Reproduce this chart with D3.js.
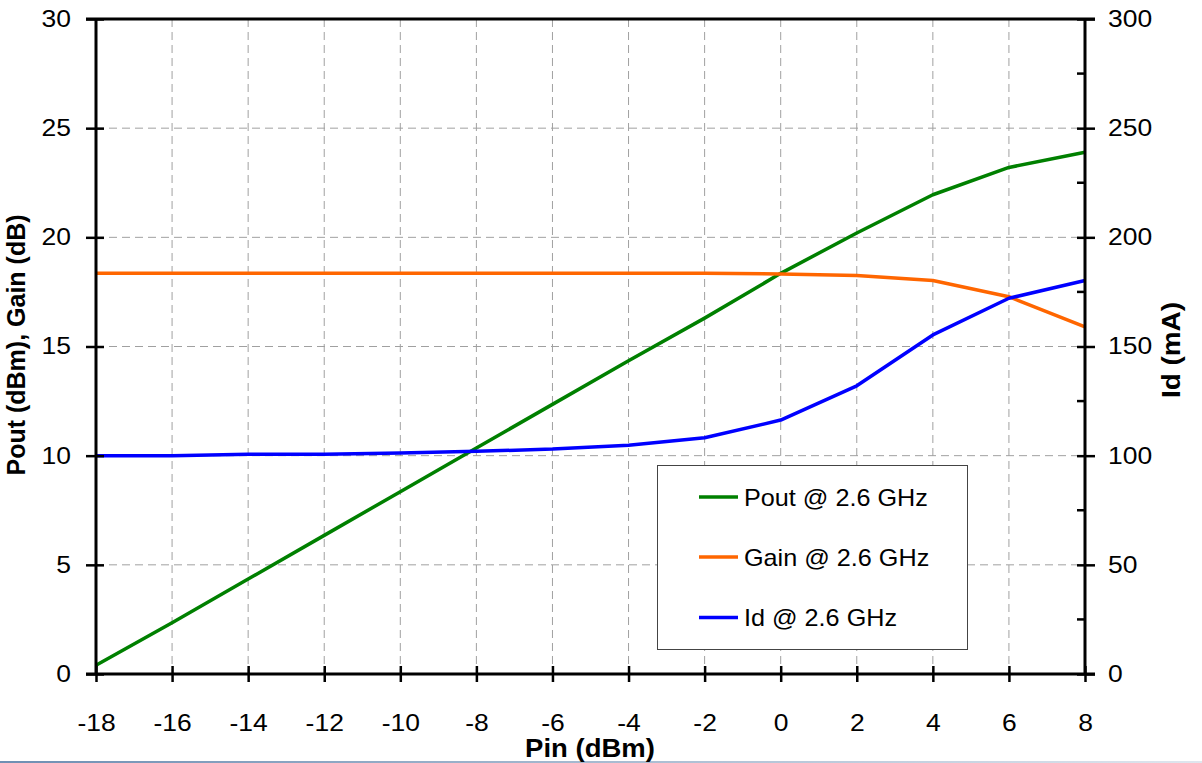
<!DOCTYPE html>
<html><head><meta charset="utf-8">
<script src="https://cdn.jsdelivr.net/npm/d3@7"></script>
<style>html,body{margin:0;padding:0;background:#fff;}svg{display:block;font-family:"Liberation Sans",Arial,sans-serif;}</style>
</head><body>
<svg id="c" width="1202" height="763"></svg>
<script>
const pin = [-18,-16,-14,-12,-10,-8,-6,-4,-2,0,2,4,6,8];
const pout = [0.4,2.35,4.35,6.35,8.35,10.35,12.35,14.35,16.3,18.35,20.2,21.95,23.2,23.9];
const gain = [18.36,18.36,18.36,18.36,18.36,18.36,18.36,18.36,18.36,18.32,18.25,18.02,17.28,15.9];
const idma = [100,100,100.6,100.7,101.2,102,103,104.8,108.2,116.3,132,155.3,172.1,180.2];
const xTicks = [-18,-16,-14,-12,-10,-8,-6,-4,-2,0,2,4,6,8];
const yLeftTicks = [0,5,10,15,20,25,30];
const yRightTicks = [0,50,100,150,200,250,300];
const yRightMinor = [25,75,125,175,225,275];
const seriesNames = ["Pout @ 2.6 GHz","Gain @ 2.6 GHz","Id @ 2.6 GHz"];
const seriesColors = ["#008000","#ff6600","#0000ff"];

const L=96,R=1085,T=19,B=674;
const svg=d3.select("#c");
const x=d3.scaleLinear().domain([-18,8]).range([L,R]);
const yl=d3.scaleLinear().domain([0,30]).range([B,T]);
const yr=d3.scaleLinear().domain([0,300]).range([B,T]);

// bottom artifact line
const defs=svg.append("defs");
const gr=defs.append("linearGradient").attr("id","bl");
gr.append("stop").attr("offset","0").attr("stop-color","#6f8fb3");
gr.append("stop").attr("offset","1").attr("stop-color","#dfe6ee");
svg.append("rect").attr("x",0).attr("y",761).attr("width",1202).attr("height",2).attr("fill","url(#bl)");

// grid
const grid=svg.append("g").attr("stroke","#a0a0a0").attr("stroke-width",1).attr("stroke-dasharray","8,5");
xTicks.filter(d=>d>-18&&d<8).forEach(d=>grid.append("line").attr("x1",x(d)).attr("x2",x(d)).attr("y1",T).attr("y2",B));
yLeftTicks.filter(d=>d>0&&d<30).forEach(d=>grid.append("line").attr("x1",L).attr("x2",R).attr("y1",yl(d)).attr("y2",yl(d)));

// series
const vals=[pout,gain,idma];
const scales=[yl,yl,yr];
vals.forEach((v,i)=>{
  const line=d3.line().x((d,j)=>x(pin[j])).y(d=>scales[i](d));
  svg.append("path").datum(v).attr("d",line).attr("fill","none").attr("stroke",seriesColors[i]).attr("stroke-width",3.5).attr("stroke-linejoin","round");
});

// axes
const fmt=d=>String(d);
const ax=svg.append("g");
function styleAxis(g){g.select(".domain").remove();g.selectAll(".tick line").attr("stroke","#000").attr("stroke-width",2.5);g.selectAll(".tick text").attr("fill","#000");}
const gx=ax.append("g").attr("transform",`translate(0,${B})`).call(d3.axisBottom(x).tickValues(xTicks).tickSize(8).tickFormat(fmt).tickPadding(33));
styleAxis(gx);
gx.selectAll(".tick line").attr("y1",-8).attr("y2",8);
gx.selectAll(".tick text").attr("font-size",23).attr("class","sx");
const gl=ax.append("g").attr("transform",`translate(${L},0)`).call(d3.axisLeft(yl).tickValues(yLeftTicks).tickSize(10).tickFormat(fmt).tickPadding(15));
styleAxis(gl);
gl.selectAll(".tick line").attr("x1",-10).attr("x2",8);
gl.selectAll(".tick text").attr("font-size",23).attr("class","sx");
const grr=ax.append("g").attr("transform",`translate(${R},0)`).call(d3.axisRight(yr).tickValues(yRightTicks).tickSize(10).tickFormat(fmt).tickPadding(13));
styleAxis(grr);
grr.selectAll(".tick line").attr("x1",-8).attr("x2",10);
grr.selectAll(".tick text").attr("font-size",23).attr("class","sx");
yRightMinor.forEach(d=>ax.append("line").attr("x1",R-8).attr("x2",R).attr("y1",yr(d)).attr("y2",yr(d)).attr("stroke","#000").attr("stroke-width",2.5));
ax.append("line").attr("x1",L).attr("x2",L).attr("y1",T).attr("y2",B).attr("stroke","#000").attr("stroke-width",3);
ax.append("line").attr("x1",R).attr("x2",R).attr("y1",T).attr("y2",B).attr("stroke","#000").attr("stroke-width",3);
ax.append("line").attr("x1",L-10).attr("x2",R+10).attr("y1",B).attr("y2",B).attr("stroke","#000").attr("stroke-width",3);
ax.append("line").attr("x1",L-10).attr("x2",R+10).attr("y1",T).attr("y2",T).attr("stroke","#000").attr("stroke-width",3);

// titles
svg.append("text").attr("class","sx2").attr("x",590).attr("y",757).attr("text-anchor","middle").attr("font-size",25).attr("font-weight","bold").text("Pin (dBm)");
svg.append("text").attr("transform","translate(25,345) rotate(-90)").attr("text-anchor","middle").attr("font-size",25).attr("font-weight","bold").text("Pout (dBm), Gain (dB)");
svg.append("text").attr("transform","translate(1180,350) rotate(-90)").attr("text-anchor","middle").attr("font-size",25).attr("font-weight","bold").attr("textLength",96).attr("lengthAdjust","spacingAndGlyphs").text("Id (mA)");

// legend
const lg=svg.append("g");
lg.append("rect").attr("x",657.5).attr("y",465.5).attr("width",310).attr("height",184).attr("fill","#fff").attr("stroke","#444").attr("stroke-width",1);
const ly=[497,557,617.5];
seriesNames.forEach((n,i)=>{
  lg.append("line").attr("x1",699).attr("x2",738).attr("y1",ly[i]).attr("y2",ly[i]).attr("stroke",seriesColors[i]).attr("stroke-width",3.5);
  lg.append("text").attr("class","sl").attr("x",744).attr("y",ly[i]+8.5).attr("font-size",24).attr("fill","#000").text(n);
});

function stretch(sel,f){sel.each(function(){const w=this.getComputedTextLength();d3.select(this).attr("textLength",w*f).attr("lengthAdjust","spacingAndGlyphs");});}
stretch(svg.selectAll("text.sx"),1.15);
stretch(svg.selectAll("text.sx2"),1.1);
stretch(svg.selectAll("text.sl"),1.05);
</script>
</body></html>
